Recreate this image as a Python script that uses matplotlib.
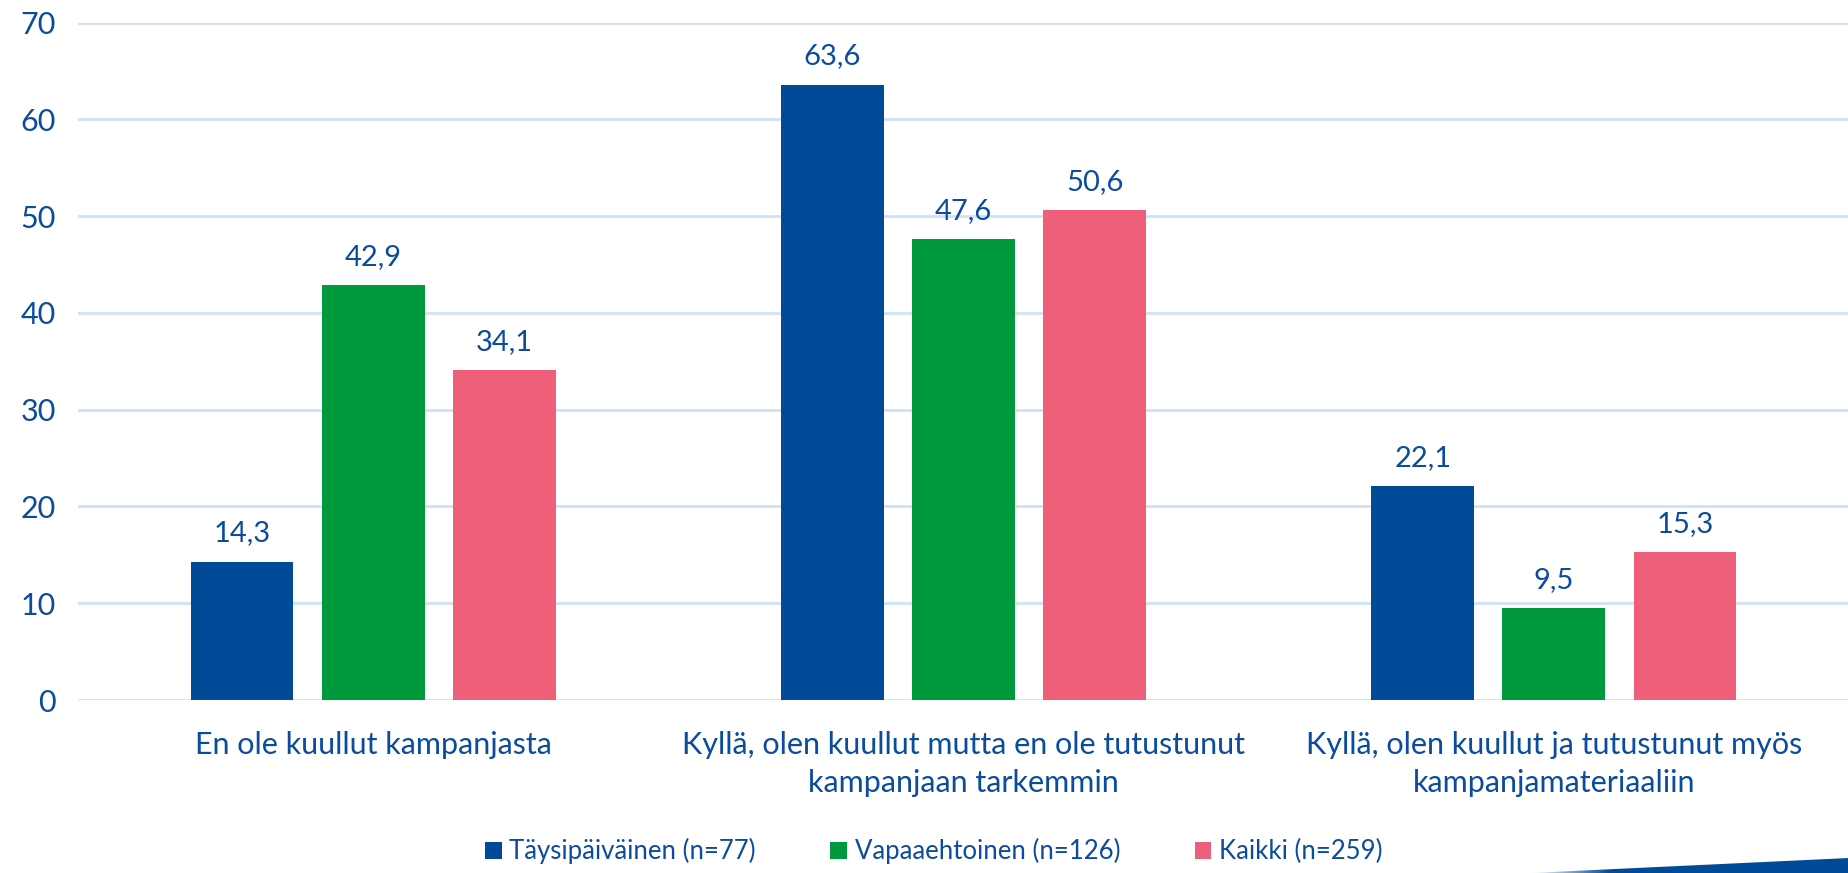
import numpy as np
import matplotlib.pyplot as plt
from matplotlib.patches import Polygon
from matplotlib.colors import LinearSegmentedColormap

categories = ['En ole kuullut kampanjasta',
              'Kyllä, olen kuullut mutta en ole tutustunut\nkampanjaan tarkemmin',
              'Kyllä, olen kuullut ja tutustunut myös\nkampanjamateriaaliin']
series = ['Täysipäiväinen (n=77)', 'Vapaaehtoinen (n=126)', 'Kaikki (n=259)']
taysi = [14.3, 63.6, 22.1]
vapaa = [42.9, 47.6, 9.5]
kaikki = [34.1, 50.6, 15.3]

colors = ['#004A98', '#009A3D', '#EE6079']
txt = '#0B4C9C'

plt.rcParams['font.family'] = ['Lato', 'DejaVu Sans']

fig = plt.figure(figsize=(18.49, 8.73), dpi=100)
ax = fig.add_axes([78/1849, 173/873, 1 - 78/1849, 677.3/873])

x = np.arange(len(categories))
w = 0.174
step = 0.222
for i, (vals, lab) in enumerate(zip([taysi, vapaa, kaikki], series)):
	bars = ax.bar(x + (i - 1)*step, vals, w, color=colors[i], label=lab, zorder=3)
	for b, v in zip(bars, vals):
		ax.annotate(('%.1f' % v).replace('.', ','), (b.get_x() + b.get_width()/2, v),
			xytext=(0, 11), textcoords='offset points', ha='center', va='bottom',
			fontsize=21, color=txt)

ax.set_xlim(-0.5, 2.5)
ax.set_ylim(0, 70)
ax.set_yticks(range(0, 71, 10))
ax.yaxis.grid(True, color='#CFE2F7', lw=2, zorder=0)
ax.set_xticks(x)
ax.set_xticklabels(categories, fontsize=22, color=txt, linespacing=1.45)
ax.tick_params(axis='y', labelsize=22, labelcolor=txt, length=0, pad=16)
ax.tick_params(axis='x', length=0, pad=22)
for s in ax.spines.values():
	s.set_visible(False)

fig.legend(loc='center', bbox_to_anchor=(0.505, 0.025), ncol=3, frameon=False,
	fontsize=18.5, labelcolor=txt, handlelength=0.65, handleheight=0.65,
	handletextpad=0.3, columnspacing=2.9)

# decorative swoosh bottom right
sw = fig.add_axes([0, 0, 1, 1], zorder=-1)
sw.set_xlim(0, 1849)
sw.set_ylim(873, 0)
sw.axis('off')
poly = Polygon([(1530, 873), (1849, 858), (1849, 873)], closed=True, fc='none', ec='none')
sw.add_patch(poly)
grad = np.clip(np.linspace(0, 1, 300) / 0.25, 0, 1)[None, :]
cm = LinearSegmentedColormap.from_list('sw', ['#FFFFFF', '#004A98'])
im = sw.imshow(grad, cmap=cm, extent=(1530, 1849, 873, 855), aspect='auto')
im.set_clip_path(poly)

fig.savefig('out.png', dpi=100)
